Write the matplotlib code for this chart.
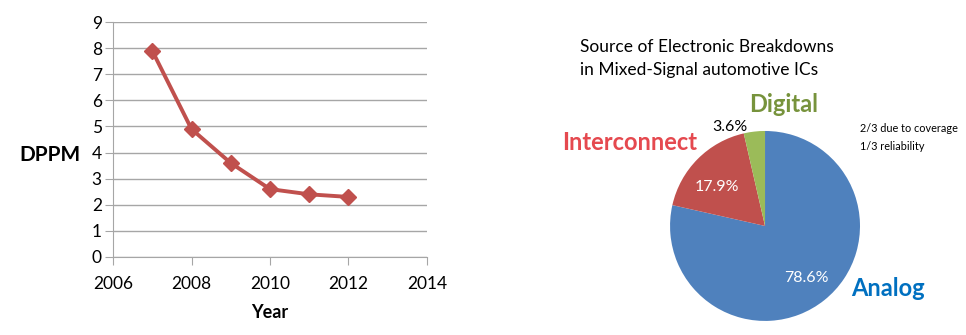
import numpy as np
import matplotlib
matplotlib.use('Agg')
import matplotlib.pyplot as plt

plt.rcParams['font.family'] = ['Lato', 'DejaVu Sans']

years = [2007, 2008, 2009, 2010, 2011, 2012]
dppm = [7.9, 4.9, 3.6, 2.6, 2.4, 2.3]

sources = ['Analog', 'Interconnect', 'Digital']
shares = [78.6, 17.9, 3.6]
slice_colors = ['#4F81BD', '#C0504D', '#9BBB59']
label_colors = ['#0070C0', '#E5494F', '#77933C']

fig = plt.figure(figsize=(9.66, 3.35), dpi=100)

# line chart
ax = fig.add_axes([0.117, 0.233, 0.325, 0.701])
ax.plot(years, dppm, color='#C0504D', lw=2.8, marker='D', ms=8, zorder=3)
ax.set_xlim(2006, 2014)
ax.set_ylim(0, 9)
ax.set_xticks(range(2006, 2015, 2))
ax.set_yticks(range(0, 10))
ax.grid(axis='y', color='#A6A6A6', lw=1)
ax.set_axisbelow(True)
for s in ['top', 'right']:
    ax.spines[s].set_visible(False)
for s in ['left', 'bottom']:
    ax.spines[s].set_color('#A6A6A6')
ax.tick_params(axis='both', colors='#A6A6A6', labelcolor='black', labelsize=12.5, length=6)
ax.tick_params(axis='y', pad=2)
ax.tick_params(axis='x', pad=8)
ax.set_xlabel('Year', fontsize=13, fontweight='bold', labelpad=8)
ax.set_ylabel('DPPM', fontsize=15, fontweight='bold', rotation=0, va='center', ha='center')
ax.yaxis.set_label_coords(-0.2, 0.434)

# pie chart
pax = fig.add_axes([0.6936, 0.042, 0.1967, 0.567])
wedges, _ = pax.pie(shares, colors=slice_colors, startangle=90, counterclock=False,
                    radius=1, wedgeprops=dict(linewidth=0))
pax.set_xlim(-1, 1)
pax.set_ylim(-1, 1)
pax.set_aspect('equal')

pct_pos = [(0.70, 0), (0.65, 6), (1.10, 13)]
for w, v, (d, shift) in zip(wedges, shares, pct_pos):
    ang = np.deg2rad((w.theta1 + w.theta2) / 2 + shift)
    col = 'white' if d < 1 else 'black'
    pax.text(d * np.cos(ang), d * np.sin(ang), f'{v}%', color=col,
             fontsize=11.5, ha='center', va='center')

fig.text(0.600, 0.825, 'Source of Electronic Breakdowns\nin Mixed-Signal automotive ICs',
         fontsize=12.5, ha='left', va='center', linespacing=1.5)
fig.text(0.919, 0.140, sources[0], color=label_colors[0], fontsize=17, fontweight='bold',
         ha='center', va='center')
fig.text(0.652, 0.576, sources[1], color=label_colors[1], fontsize=17, fontweight='bold',
         ha='center', va='center')
fig.text(0.811, 0.687, sources[2], color=label_colors[2], fontsize=17, fontweight='bold',
         ha='center', va='center')
fig.text(0.890, 0.590, '2/3 due to coverage\n1/3 reliability', fontsize=7.8,
         ha='left', va='center', linespacing=1.75)

fig.savefig('out.png', dpi=100)
